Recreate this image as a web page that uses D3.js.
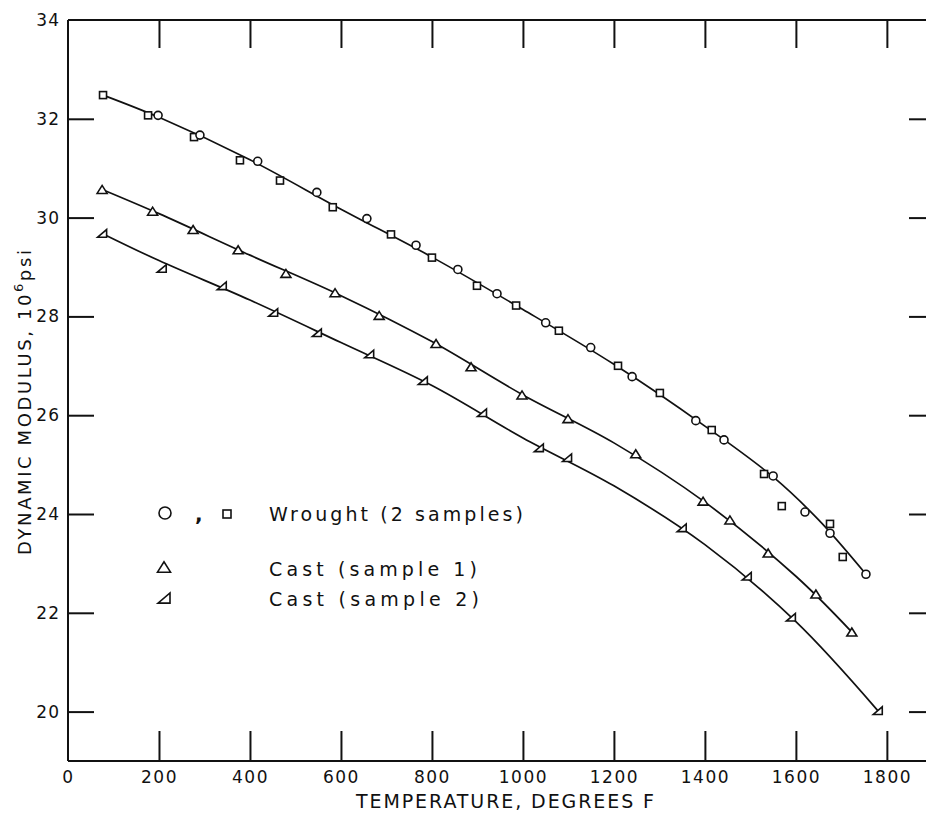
<!DOCTYPE html>
<html>
<head>
<meta charset="utf-8">
<script src="https://cdn.jsdelivr.net/npm/d3@7"></script>
<style>
  html, body { margin: 0; padding: 0; background: #fff; }
  svg { display: block; }
  text { font-family: "DejaVu Sans", "Liberation Sans", sans-serif; fill: #111; }
</style>
</head>
<body>
<svg id="chart" width="926" height="815"></svg>
<script>
// ---- data ----
const xTicks = [0, 200, 400, 600, 800, 1000, 1200, 1400, 1600, 1800];
const xTickLabels = ["0", "200", "400", "600", "800", "1000", "1200", "1400", "1600", "1800"];
const yTicks = [20, 22, 24, 26, 28, 30, 32, 34];
const yTickLabels = ["20", "22", "24", "26", "28", "30", "32", "34"];

// Wrought, circles
const wroughtCircleT = [198, 290, 417, 547, 657, 765, 857, 943, 1050, 1149, 1240, 1380, 1442, 1550, 1620, 1675, 1754];
const wroughtCircleE = [32.07, 31.67, 31.14, 30.51, 29.98, 29.44, 28.95, 28.46, 27.87, 27.37, 26.78, 25.89, 25.50, 24.77, 24.04, 23.61, 22.78];
// Wrought, squares
const wroughtSquareT = [77, 176, 277, 378, 466, 582, 710, 800, 899, 985, 1079, 1209, 1301, 1415, 1530, 1569, 1675, 1703];
const wroughtSquareE = [32.48, 32.07, 31.63, 31.16, 30.75, 30.21, 29.66, 29.19, 28.62, 28.22, 27.71, 27.00, 26.45, 25.70, 24.81, 24.16, 23.80, 23.13];
// Cast sample 1
const cast1T = [75, 186, 275, 374, 479, 587, 684, 809, 886, 998, 1099, 1248, 1396, 1455, 1539, 1644, 1723];
const cast1E = [30.57, 30.13, 29.76, 29.35, 28.87, 28.48, 28.02, 27.45, 26.98, 26.41, 25.93, 25.22, 24.26, 23.88, 23.21, 22.38, 21.61];
// Cast sample 2
const cast2T = [75, 206, 338, 451, 547, 662, 780, 910, 1035, 1097, 1349, 1492, 1589, 1780];
const cast2E = [29.68, 28.97, 28.62, 28.08, 27.67, 27.24, 26.70, 26.05, 25.34, 25.14, 23.72, 22.74, 21.91, 20.02];

// Faired curves
const wroughtCurveT = [77, 200, 400, 600, 800, 1000, 1200, 1400, 1550, 1650, 1754];
const wroughtCurveE = [32.48, 32.03, 31.17, 30.17, 29.20, 28.14, 27.03, 25.78, 24.75, 23.88, 22.78];
const cast1CurveT = [75, 200, 400, 600, 800, 1000, 1200, 1400, 1600, 1723];
const cast1CurveE = [30.57, 30.08, 29.24, 28.42, 27.49, 26.41, 25.44, 24.24, 22.74, 21.61];
const cast2CurveT = [75, 200, 400, 600, 800, 1000, 1200, 1400, 1600, 1780];
const cast2CurveE = [29.68, 29.13, 28.33, 27.47, 26.60, 25.54, 24.57, 23.38, 21.82, 20.02];

const legendLabels = ["Wrought (2 samples)", "Cast (sample 1)", "Cast (sample 2)"];
const xTitle = "TEMPERATURE, DEGREES  F";

// ---- drawing ----
const svg = d3.select("#chart");
const ink = "#111";
const x = d3.scaleLinear().domain([0, 1886]).range([68, 926]);
const y = d3.scaleLinear().domain([19, 34]).range([761, 20]);

const zip = (a, b) => a.map((v, i) => [v, b[i]]);

// frame
const frame = svg.append("g").attr("stroke", ink).attr("stroke-width", 2).attr("fill", "none");
frame.append("line").attr("x1", x(0)).attr("x2", x(1886)).attr("y1", y(34)).attr("y2", y(34));
frame.append("line").attr("x1", x(0)).attr("x2", x(1886)).attr("y1", y(19)).attr("y2", y(19));
frame.append("line").attr("x1", x(0)).attr("x2", x(0)).attr("y1", y(34)).attr("y2", y(19));

// axes (ticks drawn via d3 axes, pointing inward)
const tickFont = 17;
const bottomAxis = d3.axisBottom(x).tickValues(xTicks).tickSize(-30).tickPadding(10)
  .tickFormat((d, i) => xTickLabels[i]);
const gB = svg.append("g").attr("transform", `translate(0,${y(19)})`).call(bottomAxis);
gB.select(".domain").remove();
gB.selectAll(".tick line").attr("stroke", ink).attr("stroke-width", 2).filter(d => d === 0).remove();
gB.selectAll(".tick text").attr("font-size", tickFont).attr("letter-spacing", 1.5).attr("fill", ink)
  .attr("dy", "0.71em");

const topAxis = d3.axisTop(x).tickValues(xTicks.filter(d => d > 0)).tickSize(-28).tickFormat("");
const gT = svg.append("g").attr("transform", `translate(0,${y(34)})`).call(topAxis);
gT.select(".domain").remove();
gT.selectAll(".tick line").attr("stroke", ink).attr("stroke-width", 2);

const leftAxis = d3.axisLeft(y).tickValues(yTicks).tickSize(-26).tickPadding(8)
  .tickFormat((d, i) => yTickLabels[i]);
const gL = svg.append("g").attr("transform", `translate(${x(0)},0)`).call(leftAxis);
gL.select(".domain").remove();
gL.selectAll(".tick line").attr("stroke", ink).attr("stroke-width", 2).filter(d => d === 34).remove();
gL.selectAll(".tick text").attr("font-size", tickFont).attr("letter-spacing", 1).attr("fill", ink);

const rightAxis = d3.axisRight(y).tickValues(yTicks.filter(d => d < 34)).tickSize(-17).tickFormat("");
const gR = svg.append("g").attr("transform", `translate(926,0)`).call(rightAxis);
gR.select(".domain").remove();
gR.selectAll(".tick line").attr("stroke", ink).attr("stroke-width", 2);

// curves
const line = d3.line().x(d => x(d[0])).y(d => y(d[1])).curve(d3.curveCatmullRom.alpha(0.5));
[[wroughtCurveT, wroughtCurveE], [cast1CurveT, cast1CurveE], [cast2CurveT, cast2CurveE]].forEach(([t, e]) => {
  svg.append("path").datum(zip(t, e)).attr("d", line)
    .attr("fill", "none").attr("stroke", ink).attr("stroke-width", 1.7);
});

// markers
function circleMark(g, cx, cy, r) {
  g.append("circle").attr("cx", cx).attr("cy", cy).attr("r", r)
    .attr("fill", "#fff").attr("stroke", ink).attr("stroke-width", 1.6);
}
function squareMark(g, cx, cy, s) {
  g.append("rect").attr("x", cx - s / 2).attr("y", cy - s / 2).attr("width", s).attr("height", s)
    .attr("fill", "#fff").attr("stroke", ink).attr("stroke-width", 1.6);
}
function triMark(g, cx, cy, s) {
  const h = s * 0.8;
  g.append("path").attr("d", `M${cx - s / 2},${cy + h / 2}L${cx + s / 2},${cy + h / 2}L${cx},${cy - h / 2}Z`)
    .attr("fill", "#fff").attr("stroke", ink).attr("stroke-width", 1.6);
}
function rtTriMark(g, cx, cy, s) {
  const h = s * 0.85;
  g.append("path").attr("d", `M${cx - s / 2},${cy + h / 2}L${cx + s / 2},${cy + h / 2}L${cx + s / 2},${cy - h / 2}Z`)
    .attr("fill", "#fff").attr("stroke", ink).attr("stroke-width", 1.6);
}

const gm = svg.append("g");
zip(wroughtSquareT, wroughtSquareE).forEach(d => squareMark(gm, x(d[0]), y(d[1]), 7));
zip(wroughtCircleT, wroughtCircleE).forEach(d => circleMark(gm, x(d[0]), y(d[1]), 4));
zip(cast1T, cast1E).forEach(d => triMark(gm, x(d[0]), y(d[1]), 10));
zip(cast2T, cast2E).forEach(d => rtTriMark(gm, x(d[0]), y(d[1]), 9));

// legend
const lg = svg.append("g");
circleMark(lg, 165, 513, 6);
lg.append("text").attr("x", 195).attr("y", 521).attr("font-size", 20).attr("font-weight", "bold").text(",");
squareMark(lg, 227, 514, 8);
triMark(lg, 164, 567, 13);
rtTriMark(lg, 164, 598, 12);
const legY = [521, 576, 606];
const legW = [254, 208, 210];
legendLabels.forEach((t, i) => {
  lg.append("text").attr("x", 269).attr("y", legY[i]).attr("font-size", 19)
    .attr("textLength", legW[i]).attr("lengthAdjust", "spacing").text(t);
});

// axis titles
svg.append("text").attr("x", 356).attr("y", 808).attr("font-size", 19)
  .attr("textLength", 298).attr("lengthAdjust", "spacing").text(xTitle);

const yt = svg.append("text").attr("transform", "translate(31,555) rotate(-90)")
  .attr("font-size", 18).attr("letter-spacing", 2.6);
yt.append("tspan").text("DYNAMIC MODULUS, 10");
yt.append("tspan").attr("font-size", 13).attr("dy", -8).text("6");
yt.append("tspan").attr("dy", 8).text("psi");
</script>
</body>
</html>
